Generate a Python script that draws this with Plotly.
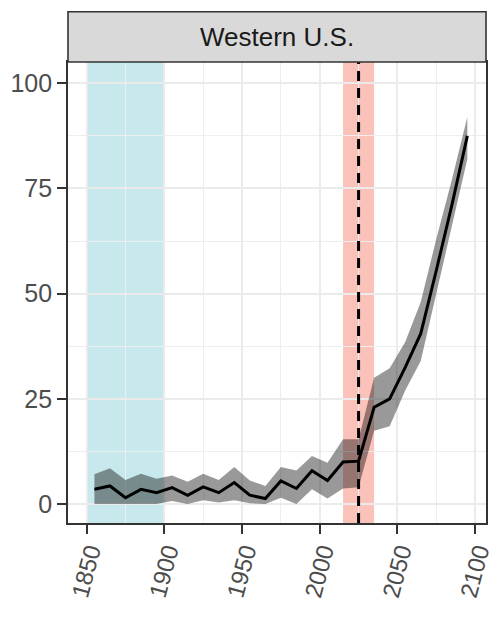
import plotly.graph_objects as go

# ---- data ----
years = [1855, 1865, 1875, 1885, 1895, 1905, 1915, 1925, 1935, 1945,
         1955, 1965, 1975, 1985, 1995, 2005, 2015, 2025, 2035, 2045,
         2055, 2065, 2075, 2085, 2095]
mean_vals = [3.5, 4.3, 1.5, 3.5, 2.7, 3.9, 2.1, 4.1, 2.7, 5.1,
             2.1, 1.3, 5.5, 3.7, 7.9, 5.6, 10.0, 10.2, 23.0, 25.0,
             32.5, 40.5, 55.5, 71.0, 87.5]
upper_vals = [7.1, 8.5, 5.7, 7.2, 6.0, 6.8, 5.3, 7.2, 5.7, 8.8,
              5.6, 4.3, 8.8, 8.0, 11.4, 9.8, 15.4, 15.4, 30.0, 32.3,
              38.5, 48.0, 63.0, 77.0, 92.0]
lower_vals = [0.0, 0.0, 0.0, 0.0, 0.0, 0.7, 0.0, 0.9, 0.4, 0.9,
              0.2, 0.0, 1.5, 0.0, 3.5, 1.3, 3.7, 4.0, 17.4, 18.5,
              27.0, 34.0, 50.0, 66.0, 82.0]

baseline_period = [1850, 1900]
present_period = [2015, 2035]
present_year = 2025
panel_title = "Western U.S."
x_ticks = [1850, 1900, 1950, 2000, 2050, 2100]
y_ticks = [0, 25, 50, 75, 100]

fig = go.Figure()

# ribbon
fig.add_trace(go.Scatter(
    x=years + years[::-1],
    y=upper_vals + lower_vals[::-1],
    fill="toself", mode="lines",
    line=dict(width=0),
    fillcolor="rgba(0,0,0,0.40)",
    hoverinfo="skip", showlegend=False,
))
# mean line
fig.add_trace(go.Scatter(
    x=years, y=mean_vals, mode="lines",
    line=dict(color="black", width=3),
    showlegend=False,
))

# shaded periods
fig.add_shape(type="rect", xref="x", yref="paper",
              x0=baseline_period[0], x1=baseline_period[1], y0=0, y1=1,
              fillcolor="rgba(0,150,170,0.22)", line=dict(width=0), layer="between")
fig.add_shape(type="rect", xref="x", yref="paper",
              x0=present_period[0], x1=present_period[1], y0=0, y1=1,
              fillcolor="rgba(245,110,90,0.42)", line=dict(width=0), layer="between")
# present-day dashed line
fig.add_shape(type="line", xref="x", yref="paper",
              x0=present_year, x1=present_year, y0=0, y1=1,
              line=dict(color="black", width=3, dash="10px,7px"), layer="above")

# strip
panel_h = 523.3 - 62
strip_h = 50.3
fig.add_shape(type="rect", xref="paper", yref="paper",
              x0=0, x1=1, y0=1, y1=1 + strip_h / panel_h,
              fillcolor="#D9D9D9", line=dict(color="#333333", width=1.6))
fig.add_annotation(xref="paper", yref="paper", x=0.5, y=1 + strip_h / panel_h / 2,
                   text=panel_title, showarrow=False,
                   font=dict(family="Liberation Sans, Arial", size=26, color="#1A1A1A"),
                   xanchor="center", yanchor="middle")

axis_common = dict(
    showline=True, mirror=True, linecolor="#333333", linewidth=1.8,
    ticks="outside", ticklen=9, tickwidth=1.8, tickcolor="#333333",
    showgrid=True, gridcolor="#EBEBEB", gridwidth=2,
    zeroline=False, ticklabeloverflow="allow", automargin=False,
    tickfont=dict(family="Liberation Sans, Arial", size=25, color="#4D4D4D"),
)

fig.update_xaxes(range=[1838, 2107], tickvals=x_ticks, ticktext=[str(v) for v in x_ticks],
                 tickangle=-75, ticklabelshift=3, ticklabelstandoff=-6,
                 tickfont=dict(family="Liberation Sans, Arial", size=24, color="#4D4D4D"),
                 minor=dict(tickvals=[1875, 1925, 1975, 2025, 2075],
                            showgrid=True, gridcolor="#EEEEEE", gridwidth=1.2, ticks=""),
                 **{k: v for k, v in axis_common.items() if k != "tickfont"})
fig.update_yaxes(range=[-4.5, 105.05], tickvals=y_ticks, ticktext=[str(v) for v in y_ticks],
                 minor=dict(tickvals=[12.5, 37.5, 62.5, 87.5],
                            showgrid=True, gridcolor="#EEEEEE", gridwidth=1.2, ticks=""),
                 **axis_common)

fig.update_layout(
    width=494, height=618,
    margin=dict(l=68, r=8, t=62, b=95, pad=0, autoexpand=False),
    paper_bgcolor="white", plot_bgcolor="white",
    showlegend=False,
)

fig.write_html("out.html")
